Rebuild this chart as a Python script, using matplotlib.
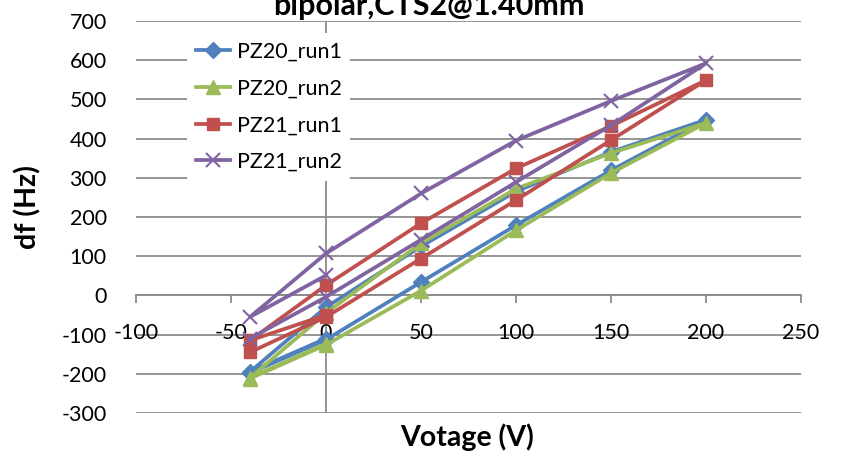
import matplotlib
matplotlib.use("Agg")
import matplotlib.pyplot as plt

plt.rcParams['font.family'] = ['Lato', 'DejaVu Sans']

# data
voltage_cycle = [-40, 0, 50, 100, 150, 200, 150, 100, 50, 0, -40, 0]
pz20_run1 = [-198, -113, 34, 179, 319, 448, 366, 265, 125, -30, -195, -110]
pz20_run2 = [-212, -126, 12, 166, 312, 440, 363, 272, 133, -45, -210, -123]
pz21_run1 = [-145, -55, 94, 243, 396, 549, 432, 324, 184, 26, -115, -50]
pz21_run2 = [-110, -4, 142, 289, 434, 592, 496, 395, 260, 107, -55, 51]
series_names = ["PZ20_run1", "PZ20_run2", "PZ21_run1", "PZ21_run2"]
x_ticks = [-100, -50, 0, 50, 100, 150, 200, 250]
y_ticks = [-300, -200, -100, 0, 100, 200, 300, 400, 500, 600, 700]

W, H = 841, 454
fig = plt.figure(figsize=(W / 100, H / 100), dpi=100)
left, right, top, bottom = 136, 801, 21, 413
ax = fig.add_axes([left / W, 1 - bottom / H, (right - left) / W, (bottom - top) / H])

grid_col = '#8c8c8c'
for yv in y_ticks:
    ax.axhline(yv, color=grid_col, lw=1.3, zorder=0)
ax.axvline(0, color=grid_col, lw=1.3, zorder=0)

styles = [
    dict(color='#4F81BD', marker='D', ms=8),
    dict(color='#9BBB59', marker='^', ms=10.5),
    dict(color='#C0504D', marker='s', ms=9),
    dict(color='#8064A2', marker='x', ms=10, mew=1.5),
]
all_series = [pz20_run1, pz20_run2, pz21_run1, pz21_run2]
for name, vals, st in zip(series_names, all_series, styles):
    ax.plot(voltage_cycle, vals, lw=2.7, label=name, **st, zorder=3)

ax.set_xlim(-100, 250)
ax.set_ylim(-300, 700)
for s in ['left', 'right', 'top']:
    ax.spines[s].set_visible(False)
ax.spines['bottom'].set_position(('data', 0))
ax.spines['bottom'].set_color(grid_col)
ax.spines['bottom'].set_linewidth(1.3)
ax.set_xticks(x_ticks)
ax.set_xticklabels([str(v) for v in x_ticks])
ax.set_yticks(y_ticks)
ax.set_yticklabels([str(v) for v in y_ticks])
ax.tick_params(axis='x', direction='out', length=6, width=1.3, color=grid_col,
               pad=14, labelsize=15.5)
ax.tick_params(axis='y', length=0, pad=21, labelsize=15.5)

leg = ax.legend(loc='upper left',
                bbox_to_anchor=((187 - left) / (right - left), 1 - (33 - top) / (bottom - top)),
                frameon=True, fontsize=15.5, handlelength=1.6, handletextpad=0.3,
                labelspacing=0.78, borderaxespad=0, borderpad=0.4)
leg.get_frame().set_facecolor('white')
leg.get_frame().set_edgecolor('none')
leg.get_frame().set_alpha(1)

fig.text(429 / W, 1 - 15 / H, "bipolar,CTS2@1.40mm", ha='center', va='baseline',
         fontsize=22, fontweight='bold')
fig.text(467 / W, 1 - 437 / H, "Votage (V)", ha='center', va='center',
         fontsize=20.5, fontweight='bold')
fig.text(28 / W, 1 - 207 / H, "df (Hz)", ha='center', va='center', rotation=90,
         fontsize=20.5, fontweight='bold')

fig.savefig('out.png', dpi=100)
